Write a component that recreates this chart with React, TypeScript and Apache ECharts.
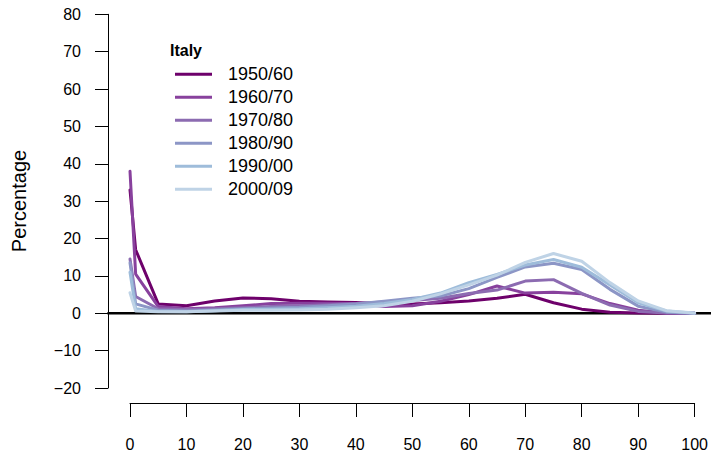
import React, { useEffect, useRef } from "react";
import * as echarts from "echarts";

const AGES = [0, 1, 5, 10, 15, 20, 25, 30, 35, 40, 45, 50, 55, 60, 65, 70, 75, 80, 85, 90, 95, 100];
const PERIODS = ["1950/60", "1960/70", "1970/80", "1980/90", "1990/00", "2000/09"];
const COLORS = ["#6e016b", "#88419d", "#8c6bb1", "#8c96c6", "#9ebcda", "#bfd3e6"];

const P1950 = [33, 17, 2.5, 2.0, 3.3, 4.1, 3.9, 3.2, 3.0, 2.9, 2.5, 2.5, 2.8, 3.3, 4.0, 5.1, 2.8, 1.1, 0.3, 0.1, 0, 0];
const P1960 = [38, 10.5, 1.8, 1.2, 1.5, 2.0, 2.6, 2.7, 2.7, 2.6, 1.8, 2.0, 3.2, 5.0, 7.3, 5.4, 5.6, 5.2, 2.6, 0.8, 0.1, 0];
const P1970 = [14.5, 4.5, 1.2, 1.0, 1.2, 1.5, 1.8, 2.0, 2.3, 2.6, 3.0, 3.4, 4.0, 5.3, 6.2, 8.6, 9.0, 5.3, 2.2, 0.5, 0.1, 0];
const P1980 = [13.5, 2.5, 0.8, 0.6, 0.9, 1.2, 1.4, 1.6, 2.0, 2.5, 3.2, 4.0, 4.6, 6.6, 9.6, 12.4, 13.4, 11.7, 6.4, 1.9, 0.3, 0];
const P1990 = [11, 1.2, 0.5, 0.4, 0.7, 1.0, 1.1, 1.2, 1.5, 1.9, 2.6, 3.7, 5.4, 8.2, 10.4, 12.9, 14.4, 12.3, 7.6, 2.8, 0.6, 0];
const P2000 = [5.5, 0.6, 0.4, 0.4, 0.6, 0.8, 0.8, 0.9, 1.1, 1.5, 2.0, 3.2, 5.2, 7.6, 10.2, 13.6, 16.0, 13.9, 8.2, 3.3, 0.7, 0.1];
const SERIES_VALUES = [P1950, P1960, P1970, P1980, P1990, P2000];

const X_MIN = 0;
const X_MAX = 100;
const X_INTERVAL = 10;
const Y_MIN = -20;
const Y_MAX = 80;
const Y_INTERVAL = 10;
const REF_Y = 0;
const REF_X_RANGE = [-4, 102.83];

const FONT = "Liberation Sans";

export default function App() {
  const ref = useRef<HTMLDivElement>(null);
  useEffect(() => {
    if (!ref.current) return;
    const chart = echarts.init(ref.current, null, { renderer: "svg" });
    const axisColor = "#000";
    const option: any = {
      animation: false,
      backgroundColor: "#fff",
      textStyle: { fontFamily: FONT },
      title: {
        text: "Italy",
        left: 170,
        top: 42.5,
        padding: 0,
        textStyle: { fontSize: 16, fontWeight: "bold", color: "#000", fontFamily: FONT },
      },
      legend: {
        data: PERIODS,
        orient: "vertical",
        left: 175,
        top: 65.3,
        padding: 0,
        itemGap: 5,
        icon: "rect",
        itemWidth: 37,
        itemHeight: 3,
        textStyle: { fontSize: 18, lineHeight: 18, color: "#000", fontFamily: FONT, padding: [0, 0, 0, 11] },
      },
      grid: [
        { left: 107.4, right: 0, top: 14.3, bottom: 67 },
        { left: 130, right: 16, top: 14.3, bottom: 67 },
      ],
      xAxis: [
        { gridIndex: 0, type: "value", min: REF_X_RANGE[0], max: REF_X_RANGE[1], show: false },
        {
          gridIndex: 1,
          type: "value",
          min: X_MIN,
          max: X_MAX,
          interval: X_INTERVAL,
          offset: 15,
          axisLine: { show: true, onZero: false, lineStyle: { color: axisColor, width: 1 } },
          axisTick: { show: true, length: 14, inside: false, lineStyle: { color: axisColor, width: 1 } },
          axisLabel: { margin: 33, fontSize: 16, color: "#000", fontFamily: FONT },
          splitLine: { show: false },
        },
      ],
      yAxis: [
        { gridIndex: 0, type: "value", min: Y_MIN, max: Y_MAX, show: false },
        {
          gridIndex: 1,
          type: "value",
          min: Y_MIN,
          max: Y_MAX,
          interval: Y_INTERVAL,
          offset: 22,
          axisLine: { show: true, onZero: false, lineStyle: { color: axisColor, width: 1 } },
          axisTick: { show: true, length: 13, inside: false, lineStyle: { color: axisColor, width: 1 } },
          axisLabel: {
            margin: 27,
            fontSize: 16,
            color: "#000",
            fontFamily: FONT,
            formatter: (v: number) => String(v).replace("-", "\u2212"),
          },
          splitLine: { show: false },
        },
      ],
      graphic: [
        {
          type: "text",
          x: 19,
          y: 201,
          rotation: Math.PI / 2,
          style: {
            text: "Percentage",
            fontSize: 20,
            fontFamily: FONT,
            fill: "#000",
            align: "center",
            verticalAlign: "middle",
          },
        },
      ],
      series: [
        {
          type: "line",
          xAxisIndex: 0,
          yAxisIndex: 0,
          data: [
            [REF_X_RANGE[0], REF_Y],
            [REF_X_RANGE[1], REF_Y],
          ],
          symbol: "none",
          silent: true,
          z: 1,
          lineStyle: { color: "#000", width: 2.5 },
        },
        ...PERIODS.map((name, i) => ({
          name,
          type: "line",
          xAxisIndex: 1,
          yAxisIndex: 1,
          data: AGES.map((a, j) => [a, SERIES_VALUES[i][j]]),
          symbol: "none",
          z: 2 + i,
          color: COLORS[i],
          lineStyle: { color: COLORS[i], width: 3, cap: "round", join: "round" },
        })),
      ],
    };
    chart.setOption(option);
    return () => chart.dispose();
  }, []);
  return (
    <div
      ref={ref}
      style={{ position: "fixed", left: 0, top: 0, width: 711, height: 455, background: "#fff" }}
    />
  );
}
